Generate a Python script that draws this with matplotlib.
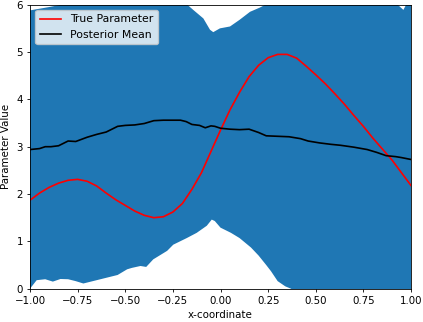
import numpy as np
import matplotlib
matplotlib.use("Agg")
import matplotlib.pyplot as plt

# True parameter (red)
true_x = [-1.00, -0.95, -0.90, -0.85, -0.80, -0.75, -0.70, -0.65, -0.60, -0.55,
          -0.50, -0.45, -0.40, -0.35, -0.30, -0.25, -0.20, -0.15, -0.10, -0.05,
          0.00, 0.05, 0.10, 0.15, 0.20, 0.25, 0.30, 0.35, 0.40, 0.45,
          0.50, 0.55, 0.60, 0.65, 0.70, 0.75, 0.80, 0.85, 0.90, 0.95, 1.00]
true_y = [1.87, 2.02, 2.14, 2.23, 2.29, 2.31, 2.27, 2.17, 2.02, 1.88,
          1.76, 1.64, 1.55, 1.50, 1.52, 1.62, 1.80, 2.10, 2.45, 2.90,
          3.35, 3.78, 4.15, 4.48, 4.72, 4.88, 4.95, 4.95, 4.87, 4.70,
          4.52, 4.33, 4.12, 3.90, 3.66, 3.43, 3.18, 2.95, 2.72, 2.45, 2.18]

# Posterior mean (black)
mean_x = [-1.00, -0.95, -0.92, -0.89, -0.85, -0.80, -0.76, -0.70, -0.65, -0.60,
          -0.54, -0.50, -0.45, -0.40, -0.35, -0.30, -0.25, -0.21, -0.18, -0.15,
          -0.11, -0.08, -0.05, -0.03, 0.00, 0.05, 0.10, 0.15, 0.20, 0.24,
          0.30, 0.36, 0.42, 0.46, 0.52, 0.58, 0.63, 0.70, 0.77, 0.82, 0.87,
          0.92, 0.95, 1.00]
mean_y = [2.94, 2.96, 3.00, 3.00, 3.02, 3.12, 3.11, 3.20, 3.26, 3.31,
          3.43, 3.45, 3.46, 3.49, 3.55, 3.56, 3.56, 3.56, 3.53, 3.47,
          3.45, 3.40, 3.44, 3.43, 3.39, 3.37, 3.36, 3.37, 3.30, 3.23,
          3.22, 3.21, 3.17, 3.12, 3.08, 3.05, 3.03, 2.99, 2.94, 2.88, 2.81,
          2.79, 2.77, 2.73]

# Credible band upper / lower bounds
upper_x = [-1.00, -0.90, -0.81, -0.50, -0.18, -0.143, -0.09, -0.055, -0.038, -0.003,
           0.05, 0.10, 0.155, 0.207, 0.245, 0.50, 0.925, 0.96, 0.977, 1.00]
upper_y = [5.88, 5.95, 6.02, 6.60, 6.02, 5.89, 5.71, 5.47, 5.42, 5.50,
           5.54, 5.68, 5.85, 5.94, 6.02, 6.60, 6.02, 5.89, 6.02, 6.30]
lower_x = [-1.00, -0.965, -0.92, -0.88, -0.84, -0.80, -0.76, -0.72, -0.68, -0.61,
           -0.54, -0.49, -0.465, -0.42, -0.39, -0.353, -0.28, -0.248, -0.177, -0.125,
           -0.072, -0.046, -0.03, 0.00, 0.03, 0.055, 0.10, 0.16, 0.20, 0.24,
           0.265, 0.30, 0.34, 0.37, 0.45, 0.60, 0.80, 1.00]
lower_y = [0.00, 0.18, 0.20, 0.15, 0.205, 0.20, 0.16, 0.11, 0.15, 0.22,
           0.29, 0.41, 0.44, 0.48, 0.46, 0.62, 0.80, 0.93, 1.07, 1.18,
           1.33, 1.46, 1.43, 1.29, 1.23, 1.18, 1.07, 0.87, 0.70, 0.50,
           0.37, 0.16, 0.05, 0.00, -0.30, -0.80, -1.30, -1.80]

fs = 7.4
plt.rcParams.update({
    "font.size": fs,
    "axes.linewidth": 0.6,
    "xtick.major.width": 0.6,
    "ytick.major.width": 0.6,
    "xtick.major.size": 2.5,
    "ytick.major.size": 2.5,
    "xtick.major.pad": 2.5,
    "ytick.major.pad": 2.5,
})

fig = plt.figure(figsize=(4.23, 3.22), dpi=100)
ax = fig.add_axes([30 / 423, 1 - 288.7 / 322, 381 / 423, 284 / 322])

poly_x = np.concatenate([upper_x, lower_x[::-1]])
poly_y = np.concatenate([upper_y, lower_y[::-1]])
ax.fill(poly_x, poly_y, color="#1f77b4", lw=0)

ax.plot(true_x, true_y, color="red", lw=1.2, label="True Parameter")
ax.plot(mean_x, mean_y, color="black", lw=1.2, label="Posterior Mean")

ax.set_xlim(-1, 1)
ax.set_ylim(0, 6)
ax.set_xticks(np.arange(-1, 1.01, 0.25))
ax.set_xticklabels([f"{v:.2f}".replace("-", "\u2212") for v in np.arange(-1, 1.01, 0.25)])
ax.set_yticks(range(0, 7))
ax.set_xlabel("x-coordinate", labelpad=3)
ax.set_ylabel("Parameter Value", labelpad=4)
ax.legend(loc="upper left", fontsize=7.8)

fig.savefig("out.png", dpi=100)
